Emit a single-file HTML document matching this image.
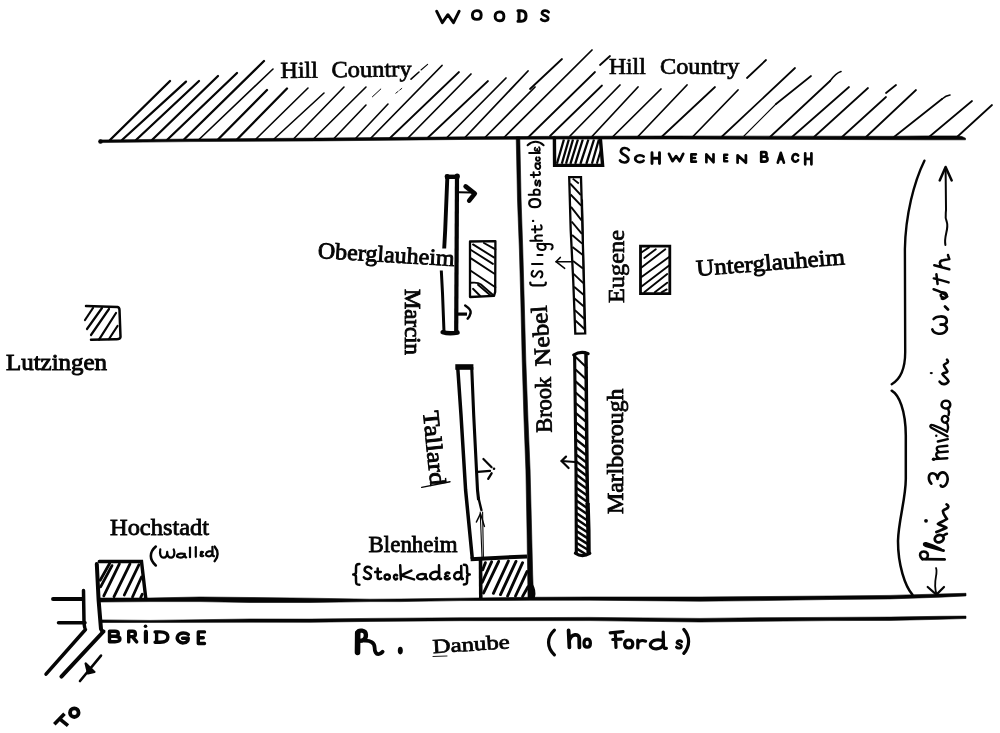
<!DOCTYPE html>
<html><head><meta charset="utf-8"><title>Blenheim</title>
<style>
html,body{margin:0;padding:0;background:#fff;}
body{width:1000px;height:733px;overflow:hidden;font-family:"Liberation Serif",serif;}
svg{display:block;filter:grayscale(1)}
svg path,svg line{fill:none;stroke:#050505;}
svg text{font-family:"Liberation Serif",serif;fill:#050505;}
</style></head><body>
<svg width="1000" height="733" viewBox="0 0 1000 733">
<rect width="1000" height="733" fill="#fff"/>
<line x1="110.0" y1="140.0" x2="170.0" y2="81.0" stroke-width="2.4" stroke-linecap="round" />
<line x1="122.0" y1="140.0" x2="186.0" y2="81.6" stroke-width="2.3" stroke-linecap="round" />
<line x1="136.0" y1="140.0" x2="199.0" y2="81.0" stroke-width="2.3" stroke-linecap="round" />
<line x1="152.0" y1="140.0" x2="218.0" y2="76.0" stroke-width="2.3" stroke-linecap="round" />
<line x1="167.0" y1="140.0" x2="237.0" y2="73.0" stroke-width="2.3" stroke-linecap="round" />
<line x1="184.0" y1="139.5" x2="264.0" y2="61.0" stroke-width="2.3" stroke-linecap="round" />
<line x1="199.0" y1="139.5" x2="273.0" y2="69.0" stroke-width="1.6" stroke-linecap="round" />
<line x1="218.0" y1="139.5" x2="267.0" y2="90.0" stroke-width="2.3" stroke-linecap="round" />
<line x1="237.0" y1="139.5" x2="287.0" y2="88.5" stroke-width="2.3" stroke-linecap="round" />
<line x1="256.0" y1="139.0" x2="308.0" y2="88.0" stroke-width="1.6" stroke-linecap="round" />
<line x1="274.0" y1="139.0" x2="324.0" y2="93.0" stroke-width="1.6" stroke-linecap="round" />
<line x1="294.0" y1="138.5" x2="344.0" y2="87.0" stroke-width="1.6" stroke-linecap="round" />
<line x1="314.0" y1="138.5" x2="366.0" y2="87.0" stroke-width="1.6" stroke-linecap="round" />
<line x1="334.0" y1="138.5" x2="366.0" y2="105.0" stroke-width="1.6" stroke-linecap="round" />
<line x1="356.0" y1="138.0" x2="388.0" y2="104.0" stroke-width="1.6" stroke-linecap="round" />
<line x1="371.0" y1="138.0" x2="442.0" y2="65.5" stroke-width="1.75" stroke-linecap="round" />
<line x1="390.0" y1="138.0" x2="459.0" y2="72.0" stroke-width="1.75" stroke-linecap="round" />
<line x1="408.0" y1="138.0" x2="471.0" y2="74.0" stroke-width="1.75" stroke-linecap="round" />
<line x1="428.0" y1="137.5" x2="488.0" y2="81.0" stroke-width="1.75" stroke-linecap="round" />
<line x1="447.0" y1="137.5" x2="506.0" y2="78.0" stroke-width="1.75" stroke-linecap="round" />
<line x1="465.0" y1="137.5" x2="528.0" y2="71.0" stroke-width="1.75" stroke-linecap="round" />
<line x1="485.0" y1="137.5" x2="535.0" y2="87.0" stroke-width="1.75" stroke-linecap="round" />
<line x1="504.0" y1="137.5" x2="592.0" y2="50.0" stroke-width="1.75" stroke-linecap="round" />
<line x1="528.0" y1="137.5" x2="595.0" y2="72.0" stroke-width="1.75" stroke-linecap="round" />
<line x1="550.0" y1="136.0" x2="602.0" y2="85.5" stroke-width="1.75" stroke-linecap="round" />
<line x1="570.0" y1="136.0" x2="620.0" y2="85.0" stroke-width="1.75" stroke-linecap="round" />
<line x1="592.0" y1="136.5" x2="638.0" y2="87.0" stroke-width="1.75" stroke-linecap="round" />
<line x1="613.0" y1="136.5" x2="661.0" y2="89.0" stroke-width="1.75" stroke-linecap="round" />
<line x1="638.0" y1="136.5" x2="687.0" y2="85.0" stroke-width="1.75" stroke-linecap="round" />
<line x1="662.0" y1="136.5" x2="715.0" y2="87.0" stroke-width="1.75" stroke-linecap="round" />
<line x1="693.0" y1="136.5" x2="738.0" y2="90.0" stroke-width="1.75" stroke-linecap="round" />
<line x1="722.0" y1="136.5" x2="795.0" y2="68.0" stroke-width="1.75" stroke-linecap="round" />
<line x1="770.0" y1="137.0" x2="830.0" y2="81.0" stroke-width="1.75" stroke-linecap="round" />
<line x1="792.0" y1="137.0" x2="849.0" y2="87.0" stroke-width="1.75" stroke-linecap="round" />
<line x1="814.0" y1="137.0" x2="868.0" y2="88.0" stroke-width="1.75" stroke-linecap="round" />
<line x1="842.0" y1="137.0" x2="886.0" y2="97.0" stroke-width="1.75" stroke-linecap="round" />
<line x1="866.0" y1="137.0" x2="916.0" y2="90.0" stroke-width="1.75" stroke-linecap="round" />
<line x1="894.0" y1="137.0" x2="942.0" y2="99.0" stroke-width="1.75" stroke-linecap="round" />
<line x1="929.0" y1="137.0" x2="972.0" y2="101.0" stroke-width="1.75" stroke-linecap="round" />
<line x1="957.0" y1="137.0" x2="992.0" y2="105.0" stroke-width="1.75" stroke-linecap="round" />
<line x1="530.0" y1="89.0" x2="562.0" y2="59.0" stroke-width="1.8" stroke-linecap="round" />
<line x1="600.0" y1="65.0" x2="610.0" y2="56.0" stroke-width="1.8" stroke-linecap="round" />
<line x1="886.0" y1="93.0" x2="896.0" y2="85.0" stroke-width="1.8" stroke-linecap="round" />
<path d="M830,81 Q836,73 841,71.5" stroke-width="1.6" stroke-linecap="round" stroke-linejoin="round" />
<path d="M942,99 Q946,95.5 950,95" stroke-width="1.6" stroke-linecap="round" stroke-linejoin="round" />
<line x1="372.4" y1="96.8" x2="380.8" y2="89.0" stroke-width="1.0" stroke-linecap="round" />
<line x1="395.8" y1="93.2" x2="401.8" y2="88.4" stroke-width="0.9" stroke-linecap="round" stroke-dasharray="3 2"/>
<line x1="411.0" y1="79.2" x2="419.0" y2="72.0" stroke-width="1.6" stroke-linecap="round" />
<line x1="421.0" y1="70.0" x2="427.6" y2="64.4" stroke-width="1.1" stroke-linecap="round" />
<line x1="747.0" y1="78.0" x2="766.0" y2="60.0" stroke-width="1.8" stroke-linecap="round" />
<line x1="744.0" y1="136.0" x2="776.0" y2="104.0" stroke-width="1.1" stroke-linecap="round" />
<line x1="776.0" y1="104.0" x2="811.0" y2="76.0" stroke-width="1.7" stroke-linecap="round" />
<path d="M99.5,140.0 L190.0,139.0 L320.0,138.1 L470.0,136.8 L560.0,136.3 L670.0,136.0 L890.0,136.3 L925.0,135.9 L958.0,135.9 L962.0,136.6 L965.5,138.2 L965.5,139.8 L962.0,139.8 L958.0,139.8 L925.0,139.8 L890.0,139.7 L670.0,139.0 L560.0,139.1 L470.0,139.4 L320.0,140.9 L190.0,141.6 L99.5,142.6 Z" style="fill:#050505;stroke:#050505" stroke-width="0.6" stroke-linejoin="round"/>
<circle cx="100.5" cy="141.5" r="2.3" fill="#050505"/>
<path d="M516.2,137.0 L517.5,200.0 L519.4,250.0 L520.8,300.0 L522.2,360.0 L524.0,420.0 L525.9,470.0 L527.0,530.0 L527.7,575.0 L528.0,598.0 L533.6,598.0 L532.7,575.0 L531.6,530.0 L530.1,470.0 L528.0,420.0 L525.8,360.0 L524.2,300.0 L522.8,250.0 L521.1,200.0 L519.8,137.0 Z" style="fill:#050505;stroke:#050505" stroke-width="0.6" stroke-linejoin="round"/>
<path d="M531.5,585 Q535,590 533.5,597" stroke-width="3" stroke-linecap="round" stroke-linejoin="round" />
<path d="M99.0,598.0 L150.0,598.0 L200.0,597.0 L250.0,597.5 L310.0,598.2 L370.0,599.2 L400.0,599.0 L460.0,598.2 L530.0,597.3 L590.0,597.0 L700.0,597.0 L760.0,596.6 L830.0,596.0 L890.0,595.4 L940.0,594.0 L966.0,593.3 L966.0,595.9 L940.0,597.2 L890.0,598.9 L830.0,599.5 L760.0,600.6 L700.0,601.2 L590.0,600.2 L530.0,600.3 L460.0,600.6 L400.0,601.6 L370.0,601.6 L310.0,602.5 L250.0,602.5 L200.0,601.6 L150.0,601.6 L99.0,602.0 Z" style="fill:#050505;stroke:#050505" stroke-width="0.6" stroke-linejoin="round"/>
<path d="M101.0,619.9 L150.0,620.4 L250.0,619.0 L310.0,619.1 L370.0,618.4 L460.0,617.8 L590.0,617.4 L700.0,618.4 L760.0,617.7 L830.0,617.4 L890.0,617.1 L940.0,616.3 L966.0,616.1 L966.0,618.5 L940.0,619.3 L890.0,620.4 L830.0,620.6 L760.0,621.3 L700.0,622.0 L590.0,620.6 L460.0,620.7 L370.0,621.4 L310.0,622.3 L250.0,622.2 L150.0,622.4 L101.0,622.5 Z" style="fill:#050505;stroke:#050505" stroke-width="0.6" stroke-linejoin="round"/>
<line x1="53.0" y1="599.0" x2="83.0" y2="599.0" stroke-width="3.9" stroke-linecap="round" />
<line x1="58.5" y1="622.8" x2="85.0" y2="622.8" stroke-width="3.5" stroke-linecap="round" />
<path d="M83.5,590.5 L84,622 Q84.5,629 85.5,629.5 L46,674.2" stroke-width="3.5" stroke-linecap="round" stroke-linejoin="round" />
<path d="M96.8,564 L98.6,600 L101,629 Q101.5,631 103.5,631.5 L61.4,676.6" stroke-width="4.0" stroke-linecap="round" stroke-linejoin="round" />
<line x1="101.0" y1="655.6" x2="80.0" y2="681.0" stroke-width="2.6" stroke-linecap="round" />
<path d="M85.6,663.4 L88,673.4 L94.5,672 Z" stroke-width="2.2" stroke-linecap="round" stroke-linejoin="round" style="fill:#050505"/>
<path d="M554.4,138.0 L554.6,165.2 L602.6,165.4 L600.4,139.0" stroke-width="3.4" stroke-linecap="round" stroke-linejoin="miter" />
<line x1="556.9" y1="163.8" x2="563.9" y2="139.5" stroke-width="2.3" stroke-linecap="butt" />
<line x1="561.8" y1="163.8" x2="568.8" y2="139.5" stroke-width="2.3" stroke-linecap="butt" />
<line x1="566.0" y1="163.8" x2="573.0" y2="139.5" stroke-width="2.3" stroke-linecap="butt" />
<line x1="570.4" y1="163.8" x2="577.9" y2="139.5" stroke-width="2.3" stroke-linecap="butt" />
<line x1="575.2" y1="163.8" x2="582.8" y2="139.5" stroke-width="2.3" stroke-linecap="butt" />
<line x1="580.4" y1="163.8" x2="588.4" y2="139.5" stroke-width="2.3" stroke-linecap="butt" />
<line x1="586.3" y1="163.8" x2="594.0" y2="139.5" stroke-width="2.3" stroke-linecap="butt" />
<line x1="591.9" y1="163.8" x2="598.9" y2="139.5" stroke-width="2.3" stroke-linecap="butt" />
<line x1="596.8" y1="163.8" x2="600.9" y2="150.0" stroke-width="2.1" stroke-linecap="butt" />
<path d="M470.0,241.5 L495.4,241.2 L495.2,291.8 L494.0,295.8 L470.0,297.0 Z" stroke-width="2.3" stroke-linecap="round" stroke-linejoin="round" />
<line x1="483.9" y1="243.0" x2="495.4" y2="249.4" stroke-width="1.9" stroke-linecap="round" />
<line x1="473.0" y1="244.4" x2="493.9" y2="257.4" stroke-width="1.9" stroke-linecap="round" />
<line x1="471.0" y1="250.0" x2="492.9" y2="263.9" stroke-width="1.9" stroke-linecap="round" />
<line x1="471.0" y1="258.4" x2="494.4" y2="273.8" stroke-width="1.9" stroke-linecap="round" />
<line x1="470.0" y1="270.3" x2="495.4" y2="287.3" stroke-width="1.9" stroke-linecap="round" />
<line x1="478.0" y1="284.8" x2="490.9" y2="295.7" stroke-width="1.9" stroke-linecap="round" />
<line x1="473.0" y1="288.8" x2="480.0" y2="295.7" stroke-width="1.9" stroke-linecap="round" />
<path d="M471,282.8 Q478,282 481,284.5 L493.9,295.7" stroke-width="1.9" stroke-linecap="round" stroke-linejoin="round" />
<path d="M640.5,246.2 L669.8,246.2 L669.8,293.7 L640.5,293.7 Z" stroke-width="2.8" stroke-linecap="round" stroke-linejoin="miter" />
<line x1="641.0" y1="252.7" x2="649.0" y2="247.4" stroke-width="1.9" stroke-linecap="round" />
<line x1="644.3" y1="257.9" x2="655.8" y2="249.3" stroke-width="1.9" stroke-linecap="round" />
<line x1="641.5" y1="267.4" x2="665.3" y2="249.3" stroke-width="1.9" stroke-linecap="round" />
<line x1="641.5" y1="277.0" x2="669.1" y2="257.0" stroke-width="1.9" stroke-linecap="round" />
<line x1="641.5" y1="286.5" x2="669.1" y2="265.5" stroke-width="1.9" stroke-linecap="round" />
<line x1="644.3" y1="292.3" x2="667.2" y2="274.1" stroke-width="1.9" stroke-linecap="round" />
<line x1="654.8" y1="292.3" x2="667.2" y2="282.7" stroke-width="1.9" stroke-linecap="round" />
<line x1="661.5" y1="292.3" x2="666.7" y2="289.4" stroke-width="1.9" stroke-linecap="round" />
<path d="M86,306 L117.5,307 Q119.5,307.5 119.5,310 L120.5,337 Q120,339.5 116,339.3 L91,339.8" stroke-width="2.5" stroke-linecap="round" stroke-linejoin="round" />
<line x1="85.0" y1="320.0" x2="93.0" y2="308.0" stroke-width="2.2" stroke-linecap="round" />
<line x1="87.0" y1="329.0" x2="102.0" y2="308.0" stroke-width="2.2" stroke-linecap="round" />
<line x1="91.0" y1="335.0" x2="109.0" y2="309.0" stroke-width="2.2" stroke-linecap="round" />
<line x1="99.0" y1="339.6" x2="116.0" y2="313.0" stroke-width="2.2" stroke-linecap="round" />
<line x1="109.0" y1="339.0" x2="117.5" y2="326.0" stroke-width="2.2" stroke-linecap="round" />
<path d="M99.3,561.5 L141.5,561.5 L145.8,598.5" stroke-width="3.4" stroke-linecap="round" stroke-linejoin="miter" />
<line x1="100.2" y1="580.3" x2="109.6" y2="563.5" stroke-width="2.8" stroke-linecap="round" />
<line x1="100.6" y1="586.9" x2="112.0" y2="565.6" stroke-width="2.8" stroke-linecap="round" />
<line x1="103.8" y1="595.9" x2="119.4" y2="563.9" stroke-width="2.8" stroke-linecap="round" />
<line x1="114.0" y1="596.7" x2="130.0" y2="563.9" stroke-width="2.8" stroke-linecap="round" />
<line x1="124.3" y1="595.0" x2="139.0" y2="564.7" stroke-width="2.8" stroke-linecap="round" />
<line x1="132.5" y1="597.0" x2="141.5" y2="577.0" stroke-width="2.8" stroke-linecap="round" />
<line x1="140.7" y1="597.5" x2="142.3" y2="594.2" stroke-width="2.8" stroke-linecap="round" />
<path d="M480.5,559.0 L480.8,598.0" stroke-width="3.6" stroke-linecap="butt" stroke-linejoin="round" />
<line x1="482.7" y1="569.8" x2="485.4" y2="562.7" stroke-width="2.9" stroke-linecap="round" />
<line x1="482.3" y1="582.2" x2="491.6" y2="561.8" stroke-width="2.9" stroke-linecap="round" />
<line x1="483.6" y1="592.9" x2="498.7" y2="561.4" stroke-width="2.9" stroke-linecap="round" />
<line x1="493.4" y1="593.3" x2="508.4" y2="561.0" stroke-width="2.9" stroke-linecap="round" />
<line x1="500.5" y1="594.6" x2="516.0" y2="561.4" stroke-width="2.9" stroke-linecap="round" />
<line x1="507.6" y1="596.0" x2="522.6" y2="562.7" stroke-width="2.9" stroke-linecap="round" />
<line x1="515.5" y1="596.0" x2="527.0" y2="571.6" stroke-width="2.9" stroke-linecap="round" />
<line x1="522.6" y1="596.4" x2="528.0" y2="586.7" stroke-width="2.9" stroke-linecap="round" />
<path d="M444.2,248.5 L445.2,230.0 L447.3,178.0" stroke-width="3.9" stroke-linecap="butt" stroke-linejoin="round" />
<path d="M445.3,176.8 L459.2,176.8" stroke-width="4.4" stroke-linecap="butt" stroke-linejoin="round" />
<path d="M457.0,176.0 L456.2,333.0" stroke-width="4.2" stroke-linecap="butt" stroke-linejoin="round" />
<path d="M441.3,270.5 L442.5,293.0 L444.0,332.0" stroke-width="3.0" stroke-linecap="butt" stroke-linejoin="round" />
<path d="M442.6,332.2 Q449,334.2 457.6,332.6" stroke-width="4.4" stroke-linecap="round" stroke-linejoin="round" />
<circle cx="447.2" cy="176.4" r="2.5" fill="#050505"/><circle cx="457.2" cy="176.2" r="2.6" fill="#050505"/>
<line x1="458.8" y1="192.2" x2="471.0" y2="192.4" stroke-width="2.0" stroke-linecap="round" />
<path d="M465.6,186.4 L474.8,193.6 L469.2,200.6" stroke-width="4.6" stroke-linecap="round" stroke-linejoin="round" />
<line x1="458.0" y1="314.1" x2="467.0" y2="314.1" stroke-width="3.2" stroke-linecap="butt" />
<path d="M465.2,305.5 Q471.4,309.6 470.6,313 Q469.8,316.4 467.7,318.6" stroke-width="2.5" stroke-linecap="round" stroke-linejoin="round" />
<path d="M457.7,367.0 L461.0,415.0 L465.6,490.0 L472.3,558.6" stroke-width="3.5" stroke-linecap="butt" stroke-linejoin="round" />
<path d="M455.3,367.0 L473.4,367.0" stroke-width="5.6" stroke-linecap="butt" stroke-linejoin="round" />
<path d="M471.7,367.0 L473.7,415.0 L477.5,490.0 L478.6,500.0" stroke-width="3.1" stroke-linecap="butt" stroke-linejoin="round" />
<path d="M478.5,498.0 L481.4,510.0" stroke-width="2.4" stroke-linecap="round" stroke-linejoin="round" />
<path d="M480.2,512 L482.0,557" stroke-width="1.1" stroke-linecap="round" stroke-linejoin="round" />
<path d="M482.6,512 L483.4,557" stroke-width="1.1" stroke-linecap="round" stroke-linejoin="round" />
<path d="M476.4,522 L480.5,513.6 L484.4,526.4" stroke-width="1.5" stroke-linecap="round" stroke-linejoin="round" />
<path d="M470.6,559.2 L527,556.4" stroke-width="4.0" stroke-linecap="butt" stroke-linejoin="round" />
<line x1="477.8" y1="471.8" x2="490.0" y2="470.8" stroke-width="2.3" stroke-linecap="round" />
<line x1="483.4" y1="459.0" x2="491.6" y2="467.2" stroke-width="2.2" stroke-linecap="round" />
<line x1="488.2" y1="478.8" x2="491.6" y2="473.3" stroke-width="2.3" stroke-linecap="round" />
<circle cx="494" cy="468.8" r="1.3" fill="#050505"/>
<path d="M569.2,177.2 L581.0,177.2 L583.9,280.0 L585.2,333.4 L575.3,333.6 L573.2,280.0 L570.7,230.0 Z" stroke-width="2.3" stroke-linecap="round" stroke-linejoin="miter" />
<line x1="582.2" y1="200.0" x2="584.6" y2="330.0" stroke-width="1.7" stroke-linecap="round" />
<line x1="572.7" y1="178.6" x2="578.8" y2="183.5" stroke-width="1.8" stroke-linecap="butt" />
<line x1="570.1" y1="183.5" x2="580.9" y2="195.2" stroke-width="1.9" stroke-linecap="butt" />
<line x1="570.6" y1="194.5" x2="581.2" y2="205.6" stroke-width="1.9" stroke-linecap="butt" />
<line x1="571.0" y1="206.8" x2="581.6" y2="220.3" stroke-width="1.9" stroke-linecap="butt" />
<line x1="571.6" y1="221.5" x2="581.9" y2="233.8" stroke-width="1.9" stroke-linecap="butt" />
<line x1="572.1" y1="235.0" x2="582.2" y2="243.6" stroke-width="1.9" stroke-linecap="butt" />
<line x1="572.5" y1="247.0" x2="582.5" y2="254.7" stroke-width="1.9" stroke-linecap="butt" />
<line x1="573.1" y1="261.0" x2="582.9" y2="268.4" stroke-width="1.9" stroke-linecap="butt" />
<line x1="573.6" y1="273.9" x2="583.3" y2="283.1" stroke-width="1.9" stroke-linecap="butt" />
<line x1="574.1" y1="286.8" x2="583.6" y2="294.8" stroke-width="1.9" stroke-linecap="butt" />
<line x1="574.5" y1="298.5" x2="583.9" y2="306.4" stroke-width="1.9" stroke-linecap="butt" />
<line x1="574.9" y1="310.1" x2="584.2" y2="318.7" stroke-width="1.9" stroke-linecap="butt" />
<line x1="575.3" y1="320.5" x2="584.5" y2="329.0" stroke-width="1.9" stroke-linecap="butt" />
<line x1="571.5" y1="261.7" x2="556.0" y2="261.7" stroke-width="1.5" stroke-linecap="round" />
<path d="M560.4,257.4 L556.0,261.7 L564.7,268.4" stroke-width="1.5" stroke-linecap="round" stroke-linejoin="round" />
<path d="M574.6,354.0 L576.0,470.0 L576.3,553.0" stroke-width="3.1" stroke-linecap="butt" stroke-linejoin="round" />
<path d="M586.0,354.0 L587.0,470.0 L587.6,505.0" stroke-width="3.5" stroke-linecap="butt" stroke-linejoin="round" />
<path d="M587.6,503.0 L588.4,530.0 L588.6,553.0" stroke-width="4.3" stroke-linecap="butt" stroke-linejoin="round" />
<path d="M573.6,355 Q580.5,350.6 588.2,353.6" stroke-width="3.0" stroke-linecap="round" stroke-linejoin="round" />
<path d="M575.4,553.2 Q582,557.8 589.8,553.4" stroke-width="3.2" stroke-linecap="round" stroke-linejoin="round" />
<line x1="575.6" y1="357.0" x2="587.4" y2="368.2" stroke-width="2.0198" stroke-linecap="butt" />
<line x1="575.6" y1="369.6" x2="587.4" y2="380.5" stroke-width="2.08199378" stroke-linecap="butt" />
<line x1="575.6" y1="381.4" x2="587.4" y2="392.1" stroke-width="2.140524346358" stroke-linecap="butt" />
<line x1="575.6" y1="392.5" x2="587.4" y2="403.0" stroke-width="2.195607462357514" stroke-linecap="butt" />
<line x1="575.6" y1="403.0" x2="587.4" y2="413.2" stroke-width="2.2474461828246564" stroke-linecap="butt" />
<line x1="575.6" y1="412.8" x2="587.4" y2="422.9" stroke-width="2.296231602656284" stroke-linecap="butt" />
<line x1="575.6" y1="422.1" x2="587.4" y2="431.9" stroke-width="2.342143561259829" stroke-linecap="butt" />
<line x1="575.6" y1="430.8" x2="587.4" y2="440.5" stroke-width="2.385351305501625" stroke-linecap="butt" />
<line x1="575.6" y1="439.1" x2="587.4" y2="448.5" stroke-width="2.4260141136075792" stroke-linecap="butt" />
<line x1="575.6" y1="446.8" x2="587.4" y2="456.1" stroke-width="2.45" stroke-linecap="butt" />
<line x1="575.6" y1="454.1" x2="587.4" y2="463.2" stroke-width="2.45" stroke-linecap="butt" />
<line x1="575.6" y1="460.9" x2="587.4" y2="469.9" stroke-width="2.45" stroke-linecap="butt" />
<line x1="575.6" y1="467.5" x2="587.4" y2="476.4" stroke-width="2.45" stroke-linecap="butt" />
<line x1="575.6" y1="474.1" x2="587.4" y2="482.9" stroke-width="2.45" stroke-linecap="butt" />
<line x1="575.6" y1="480.7" x2="587.4" y2="489.3" stroke-width="2.45" stroke-linecap="butt" />
<line x1="575.6" y1="487.2" x2="587.4" y2="495.7" stroke-width="2.45" stroke-linecap="butt" />
<line x1="575.6" y1="493.6" x2="587.4" y2="502.0" stroke-width="2.45" stroke-linecap="butt" />
<line x1="575.6" y1="500.0" x2="587.4" y2="508.2" stroke-width="2.45" stroke-linecap="butt" />
<line x1="575.6" y1="506.2" x2="587.4" y2="514.3" stroke-width="2.45" stroke-linecap="butt" />
<line x1="575.6" y1="512.4" x2="587.4" y2="520.4" stroke-width="2.45" stroke-linecap="butt" />
<line x1="575.6" y1="518.5" x2="587.4" y2="526.4" stroke-width="2.45" stroke-linecap="butt" />
<line x1="575.6" y1="524.6" x2="587.4" y2="532.3" stroke-width="2.45" stroke-linecap="butt" />
<line x1="575.6" y1="530.5" x2="587.4" y2="538.1" stroke-width="2.45" stroke-linecap="butt" />
<line x1="575.6" y1="536.4" x2="587.4" y2="543.9" stroke-width="2.45" stroke-linecap="butt" />
<line x1="575.6" y1="542.2" x2="587.4" y2="549.5" stroke-width="2.45" stroke-linecap="butt" />
<line x1="575.6" y1="547.9" x2="587.4" y2="555.2" stroke-width="2.45" stroke-linecap="butt" />
<line x1="574.8" y1="462.0" x2="561.5" y2="461.0" stroke-width="2.0" stroke-linecap="round" />
<path d="M566.0,456.6 L561.5,461.0 L568.6,468.0" stroke-width="2.2" stroke-linecap="round" stroke-linejoin="round" />
<text x="280.5" y="78.0" font-size="23" font-weight="normal" textLength="37.5" lengthAdjust="spacingAndGlyphs" stroke="#050505" stroke-width="0.7" transform="rotate(-0.6 280.5 78.0)">Hill</text>
<text x="331.5" y="77.2" font-size="23" font-weight="normal" textLength="80.2" lengthAdjust="spacingAndGlyphs" stroke="#050505" stroke-width="0.7" transform="rotate(-0.6 331.5 77.2)">Country</text>
<text x="609.0" y="74.0" font-size="23" font-weight="normal" textLength="36.7" lengthAdjust="spacingAndGlyphs" stroke="#050505" stroke-width="0.7">Hill</text>
<text x="660.0" y="73.6" font-size="23" font-weight="normal" textLength="79.5" lengthAdjust="spacingAndGlyphs" stroke="#050505" stroke-width="0.7">Country</text>
<text x="6.0" y="370.0" font-size="23" font-weight="normal" textLength="101.0" lengthAdjust="spacingAndGlyphs" stroke="#050505" stroke-width="0.9">Lutzingen</text>
<text x="317.5" y="258.0" font-size="23" font-weight="normal" textLength="137.0" lengthAdjust="spacingAndGlyphs" stroke="#050505" stroke-width="0.85" transform="rotate(3.4 317.5 258.0)">Oberglauheim</text>
<text x="405.0" y="289.0" font-size="23" font-weight="normal" textLength="66.0" lengthAdjust="spacingAndGlyphs" stroke="#050505" stroke-width="0.9" transform="rotate(90 405.0 289.0)">Marcin</text>
<text x="423.0" y="411.5" font-size="23" font-weight="normal" textLength="75.0" lengthAdjust="spacingAndGlyphs" stroke="#050505" stroke-width="0.85" transform="rotate(84.3 423.0 411.5)">Tallard</text>
<text x="368.6" y="552.0" font-size="23" font-weight="normal" textLength="89.0" lengthAdjust="spacingAndGlyphs" stroke="#050505" stroke-width="0.8">Blenheim</text>
<text x="110.0" y="535.0" font-size="23" font-weight="normal" textLength="99.0" lengthAdjust="spacingAndGlyphs" stroke="#050505" stroke-width="0.8">Hochstadt</text>
<text x="433.0" y="653.3" font-size="20" font-weight="normal" textLength="77.3" lengthAdjust="spacingAndGlyphs" stroke="#050505" stroke-width="0.7" transform="rotate(-3.8 433.0 653.3)">Danube</text>
<text x="623.6" y="303.0" font-size="23" font-weight="normal" textLength="73.0" lengthAdjust="spacingAndGlyphs" stroke="#050505" stroke-width="0.7" transform="rotate(-90 623.6 303.0)">Eugene</text>
<text x="696.8" y="276.0" font-size="23" font-weight="normal" textLength="149.0" lengthAdjust="spacingAndGlyphs" stroke="#050505" stroke-width="0.85" transform="rotate(-4.5 696.8 276.0)">Unterglauheim</text>
<text x="623.0" y="514.0" font-size="23" font-weight="normal" textLength="125.4" lengthAdjust="spacingAndGlyphs" stroke="#050505" stroke-width="0.85" transform="rotate(-90 623.0 514.0)">Marlborough</text>
<text x="551.7" y="432.4" font-size="23" font-weight="normal" textLength="55.6" lengthAdjust="spacingAndGlyphs" stroke="#050505" stroke-width="0.8" transform="rotate(-91 551.7 432.4)">Brook</text>
<text x="550.7" y="365.6" font-size="23" font-weight="normal" textLength="60.6" lengthAdjust="spacingAndGlyphs" stroke="#050505" stroke-width="0.8" transform="rotate(-94 550.7 365.6)">Nebel</text>
<line x1="421.7" y1="487.4" x2="450.0" y2="481.7" stroke-width="1.4" stroke-linecap="round" />
<line x1="433.0" y1="656.5" x2="447.0" y2="656.0" stroke-width="0.9" stroke-linecap="round" />
<path d="M 436.6,11.2 L 442.3,22.7 L 447.9,14.7 L 453.5,22.7 L 459.2,11.2" stroke-width="2.9" stroke-linecap="round" stroke-linejoin="round" />
<path d="M 476.9,10.6 C 473.8,10.6 472.4,12.8 472.4,15.0 C 472.4,17.7 474.2,19.4 476.9,19.4 C 479.5,19.4 481.2,17.7 481.2,15.0 C 481.2,12.4 479.9,10.6 476.9,10.6 Z" stroke-width="2.9" stroke-linecap="round" stroke-linejoin="round" />
<path d="M 499.5,11.9 C 496.5,11.9 495.1,14.1 495.1,16.4 C 495.1,19.0 496.9,20.8 499.5,20.8 C 502.2,20.8 503.9,19.0 503.9,16.4 C 503.9,13.7 502.6,11.9 499.5,11.9 Z" stroke-width="2.9" stroke-linecap="round" stroke-linejoin="round" />
<path d="M 519.0,10.8 L 519.0,21.2 M 518.0,10.8 L 521.2,10.8 C 524.4,10.8 526.0,12.8 526.0,16.0 C 526.0,19.1 524.4,21.2 521.2,21.2 L 518.0,21.2" stroke-width="3.1" stroke-linecap="round" stroke-linejoin="round" />
<path d="M 548.6,12.1 C 547.0,10.2 542.8,10.0 542.0,12.8 C 541.4,15.7 548.3,15.2 548.2,18.6 C 547.8,21.5 542.8,21.3 541.2,19.3" stroke-width="2.6999999999999997" stroke-linecap="round" stroke-linejoin="round" />
<path d="M 628.9,150.0 C 627.0,147.3 621.8,147.0 620.9,151.0 C 620.1,155.2 628.6,154.5 628.4,159.4 C 627.9,163.5 621.8,163.2 620.0,160.4" stroke-width="2.7" stroke-linecap="round" stroke-linejoin="round" />
<path d="M 643.6,156.5 C 641.9,154.9 637.5,154.6 635.7,157.1 C 634.0,160.0 637.5,162.5 640.1,162.2 C 641.9,162.0 643.2,161.4 643.6,160.7" stroke-width="2.7" stroke-linecap="round" stroke-linejoin="round" />
<path d="M 652.0,152.8 L 652.0,163.6 M 659.5,152.8 L 659.5,163.6 M 652.0,158.2 L 659.5,158.2" stroke-width="2.9000000000000004" stroke-linecap="round" stroke-linejoin="round" />
<path d="M 669.0,153.8 L 672.5,161.2 L 676.1,156.1 L 679.7,161.2 L 683.2,153.8" stroke-width="2.7" stroke-linecap="round" stroke-linejoin="round" />
<path d="M 695.9,154.3 L 691.4,154.3 L 691.4,161.7 L 695.9,161.7 M 691.4,158.0 L 695.0,158.0" stroke-width="2.7" stroke-linecap="round" stroke-linejoin="round" />
<path d="M 706.4,162.2 L 706.4,154.3 L 713.5,162.2 L 713.5,154.3" stroke-width="2.7" stroke-linecap="round" stroke-linejoin="round" />
<path d="M 727.3,154.7 L 724.2,154.7 L 724.2,161.2 L 727.3,161.2 M 724.2,157.9 L 726.7,157.9" stroke-width="2.4000000000000004" stroke-linecap="round" stroke-linejoin="round" />
<path d="M 737.6,162.7 L 737.6,155.3 L 745.9,162.7 L 745.9,155.3" stroke-width="2.7" stroke-linecap="round" stroke-linejoin="round" />
<path d="M 761.2,152.2 L 761.2,161.7 M 761.2,152.2 L 764.5,152.2 C 767.2,152.2 767.2,156.4 764.5,156.7 L 761.2,156.7 M 764.5,156.7 C 768.5,156.9 768.5,161.7 764.5,161.7 L 761.2,161.7" stroke-width="2.7" stroke-linecap="round" stroke-linejoin="round" />
<path d="M 777.8,162.7 L 780.8,152.8 L 783.9,162.7 M 779.0,159.2 L 782.6,159.2" stroke-width="2.7" stroke-linecap="round" stroke-linejoin="round" />
<path d="M 798.1,155.6 C 796.9,153.8 793.9,153.5 792.7,156.2 C 791.4,159.3 793.9,162.0 795.7,161.7 C 796.9,161.5 797.8,160.9 798.1,160.1" stroke-width="2.7" stroke-linecap="round" stroke-linejoin="round" />
<path d="M 805.2,153.3 L 805.2,164.3 M 811.4,153.3 L 811.4,164.3 M 805.2,158.8 L 811.4,158.8" stroke-width="2.7" stroke-linecap="round" stroke-linejoin="round" />
<path d="M 109.5,631.3 L 109.5,641.7 M 109.5,631.3 L 115.0,631.3 C 119.4,631.3 119.4,636.0 115.0,636.3 L 109.5,636.3 M 115.0,636.3 C 121.6,636.5 121.6,641.7 115.0,641.7 L 109.5,641.7" stroke-width="3.4" stroke-linecap="round" stroke-linejoin="round" />
<path d="M 128.7,631.3 L 128.7,641.9 M 128.7,631.3 L 132.7,631.3 C 136.3,631.3 136.3,636.6 132.7,636.6 L 128.7,636.6 M 132.3,636.6 L 136.7,641.9" stroke-width="3.4" stroke-linecap="round" stroke-linejoin="round" />
<path d="M 145.9,631.9 L 145.9,641.9" stroke-width="4.2" stroke-linecap="round" stroke-linejoin="round" />
<circle cx="145.5" cy="626.2" r="1.8" fill="#050505"/>
<path d="M 156.6,631.9 L 156.6,642.3 M 155.1,631.9 L 160.2,631.9 C 165.3,631.9 167.9,634.0 167.9,637.1 C 167.9,640.2 165.3,642.3 160.2,642.3 L 155.1,642.3" stroke-width="3.4" stroke-linecap="round" stroke-linejoin="round" />
<path d="M 188.3,634.6 C 186.0,632.5 180.2,632.0 177.9,635.6 C 175.5,639.8 180.2,643.4 183.7,642.9 C 187.1,642.4 188.3,640.8 188.3,638.2 L 182.5,638.2" stroke-width="3.4" stroke-linecap="round" stroke-linejoin="round" />
<path d="M 204.5,631.9 L 198.3,631.9 L 198.3,643.5 L 204.5,643.5 M 198.3,637.7 L 203.3,637.7" stroke-width="3.4" stroke-linecap="round" stroke-linejoin="round" />
<path d="M 155.8,546.6 C 149.2,552.2 149.2,559.8 155.8,565.4" stroke-width="2.6" stroke-linecap="round" stroke-linejoin="round" />
<path d="M 160.3,549.4 C 159.3,554.3 160.7,557.6 163.6,557.6 C 166.5,557.6 167.2,554.3 167.2,551.9 C 167.2,555.1 168.6,557.6 171.2,557.6 C 174.4,557.6 175.1,552.7 173.7,549.4" stroke-width="2.2" stroke-linecap="round" stroke-linejoin="round" />
<path d="M 184.8,554.0 C 182.5,553.2 177.9,553.4 177.0,555.5 C 176.5,557.2 179.8,557.8 182.1,557.4 C 183.9,557.0 184.8,555.9 184.8,553.8 M 184.8,554.7 C 184.8,556.8 185.3,557.6 186.2,557.4" stroke-width="2.2" stroke-linecap="round" stroke-linejoin="round" />
<path d="M 190.0,547.6 L 190.0,557.2" stroke-width="2.2" stroke-linecap="round" stroke-linejoin="round" />
<path d="M 195.8,547.2 L 195.8,556.8" stroke-width="2.2" stroke-linecap="round" stroke-linejoin="round" />
<path d="M 203.1,552.1 C 202.1,551.4 200.5,551.6 200.7,553.0 C 200.8,553.8 201.5,554.0 202.1,554.0 C 201.2,554.0 200.2,554.5 200.4,555.4 C 200.5,556.6 202.4,556.6 203.4,555.7" stroke-width="2.0" stroke-linecap="round" stroke-linejoin="round" />
<path d="M 212.4,552.1 C 210.8,550.8 206.8,550.8 206.0,553.7 C 205.6,555.9 208.4,556.9 210.4,556.1 C 212.0,555.4 212.6,554.5 212.6,551.6 M 212.4,546.8 L 212.6,555.0 C 212.7,555.9 213.2,556.4 214.0,556.1" stroke-width="2.2" stroke-linecap="round" stroke-linejoin="round" />
<path d="M 214.6,546.6 C 218.6,551.0 218.6,556.8 214.6,561.2" stroke-width="2.4000000000000004" stroke-linecap="round" stroke-linejoin="round" />
<path d="M 359.4,564.0 C 356.3,564.0 356.0,565.1 356.0,568.2 L 356.0,571.9 C 356.0,573.8 355.1,574.4 353.2,574.4 C 355.1,574.4 356.0,575.0 356.0,576.9 L 356.0,580.6 C 356.0,583.7 356.3,584.8 359.4,584.8" stroke-width="2.5" stroke-linecap="round" stroke-linejoin="round" />
<path d="M 371.4,568.5 C 369.8,566.3 365.4,566.0 364.6,569.4 C 363.9,572.9 371.1,572.3 370.9,576.4 C 370.6,579.9 365.4,579.6 363.8,577.3" stroke-width="2.5" stroke-linecap="round" stroke-linejoin="round" />
<path d="M 377.7,568.6 L 377.7,577.7 C 377.7,579.4 380.2,579.4 381.4,578.3 M 375.2,572.1 L 380.8,571.9" stroke-width="2.5" stroke-linecap="round" stroke-linejoin="round" />
<path d="M 387.2,574.5 C 385.4,574.5 384.6,575.7 384.6,576.9 C 384.6,578.4 385.7,579.4 387.2,579.4 C 388.7,579.4 389.8,578.4 389.8,576.9 C 389.8,575.4 389.0,574.5 387.2,574.5 Z" stroke-width="2.5" stroke-linecap="round" stroke-linejoin="round" />
<path d="M 397.1,575.5 C 396.5,574.5 394.8,574.2 394.1,575.9 C 393.4,577.9 394.8,579.6 395.8,579.4 C 396.5,579.3 397.0,578.9 397.1,578.4" stroke-width="2.5" stroke-linecap="round" stroke-linejoin="round" />
<path d="M 400.2,565.2 L 400.9,579.4 M 411.4,570.6 L 400.9,575.4 L 414.1,579.4" stroke-width="2.5" stroke-linecap="round" stroke-linejoin="round" />
<path d="M 425.7,574.6 C 423.2,573.5 418.2,573.8 417.2,576.5 C 416.8,578.8 420.2,579.6 422.7,579.1 C 424.7,578.5 425.7,577.1 425.7,574.3 M 425.7,575.4 C 425.7,578.2 426.2,579.4 427.1,579.1" stroke-width="2.5" stroke-linecap="round" stroke-linejoin="round" />
<path d="M 439.0,573.0 C 436.8,571.2 431.3,571.2 430.2,575.4 C 429.7,578.6 433.5,580.1 436.2,578.9 C 438.4,577.9 439.2,576.5 439.2,572.3 M 439.0,565.2 L 439.2,577.2 C 439.4,578.6 440.1,579.4 441.1,578.9" stroke-width="2.5" stroke-linecap="round" stroke-linejoin="round" />
<path d="M 449.2,573.1 C 447.7,572.1 445.2,572.5 445.4,574.5 C 445.7,575.6 446.7,575.9 447.7,575.9 C 446.2,575.9 444.6,576.6 444.9,578.0 C 445.2,579.7 448.2,579.7 449.8,578.3" stroke-width="2.5" stroke-linecap="round" stroke-linejoin="round" />
<path d="M 461.2,573.3 C 459.5,571.6 455.1,571.6 454.2,575.6 C 453.8,578.7 456.9,580.0 459.0,578.9 C 460.8,578.0 461.4,576.7 461.4,572.7 M 461.2,566.0 L 461.4,577.3 C 461.6,578.7 462.1,579.4 462.9,578.9" stroke-width="2.5" stroke-linecap="round" stroke-linejoin="round" />
<path d="M 463.9,564.8 C 466.9,564.8 467.1,565.7 467.1,568.7 L 467.1,572.2 C 467.1,574.0 468.0,574.5 469.8,574.5 C 468.0,574.5 467.1,575.1 467.1,576.9 L 467.1,580.4 C 467.1,583.4 466.9,584.4 463.9,584.4" stroke-width="2.5" stroke-linecap="round" stroke-linejoin="round" />
<path d="M357.7,633 L357.5,652.4" stroke-width="5.6" stroke-linecap="round" stroke-linejoin="round" />
<path d="M357.6,632.5 C358.5,629.8 365.5,629.6 365.9,634.6 C366.2,639.5 362.5,641.2 358.5,640.8" stroke-width="4.4" stroke-linecap="round" stroke-linejoin="round" />
<path d="M364.5,640.6 C370,640.2 374.6,642.5 374.6,647.5 C374.6,651.5 376,654.6 379,654 C380.6,653.6 381.8,652.8 382.6,651.8" stroke-width="3.8" stroke-linecap="round" stroke-linejoin="round" />
<ellipse cx="400.3" cy="650.6" rx="2.5" ry="3.8" fill="#050505"/>
<path d="M 554.4,630.2 C 546.6,637.6 546.6,647.4 554.4,654.8" stroke-width="3.2" stroke-linecap="round" stroke-linejoin="round" />
<path d="M568.6,630.5 L569.4,647.4 M569.4,640 C571.5,633.5 579,633.5 579.2,638 L579.4,647.4" stroke-width="3.8000000000000003" stroke-linecap="round" stroke-linejoin="round" />
<path d="M 587.2,639.2 C 585.0,639.2 584.0,641.2 584.0,643.2 C 584.0,645.6 585.3,647.2 587.2,647.2 C 589.1,647.2 590.4,645.6 590.4,643.2 C 590.4,640.8 589.4,639.2 587.2,639.2 Z" stroke-width="3.2" stroke-linecap="round" stroke-linejoin="round" />
<path d="M 623.0,631.6 L 610.2,632.9 M 615.3,632.4 L 616.0,647.4 M 612.8,639.5 L 621.1,639.2" stroke-width="3.2" stroke-linecap="round" stroke-linejoin="round" />
<path d="M 628.7,640.0 C 625.8,640.0 624.6,642.0 624.6,644.0 C 624.6,646.4 626.2,648.0 628.7,648.0 C 631.2,648.0 632.8,646.4 632.8,644.0 C 632.8,641.6 631.6,640.0 628.7,640.0 Z" stroke-width="3.2" stroke-linecap="round" stroke-linejoin="round" />
<path d="M 637.8,640.0 L 637.8,648.0 M 637.8,643.2 C 639.0,640.8 642.3,640.0 645.6,641.2" stroke-width="3.2" stroke-linecap="round" stroke-linejoin="round" />
<path d="M 663.2,641.2 C 660.0,639.1 652.0,639.1 650.4,644.1 C 649.6,648.0 655.2,649.6 659.2,648.3 C 662.4,647.1 663.5,645.4 663.5,640.4 M 663.2,632.0 L 663.5,646.3 C 663.8,648.0 664.8,648.8 666.4,648.3" stroke-width="3.2" stroke-linecap="round" stroke-linejoin="round" />
<path d="M 681.7,641.7 C 680.6,640.4 677.5,640.2 677.0,642.3 C 676.5,644.4 681.6,644.0 681.4,646.5 C 681.2,648.7 677.5,648.5 676.4,647.1" stroke-width="2.8" stroke-linecap="round" stroke-linejoin="round" />
<path d="M 683.8,629.4 C 690.2,636.6 690.2,646.2 683.8,653.4" stroke-width="3.2" stroke-linecap="round" stroke-linejoin="round" />
<path d="M54.3,724.3 L64.5,713.8 M60.3,719.4 L68,725.7" stroke-width="3.6" stroke-linecap="butt" stroke-linejoin="round" />
<circle cx="74.3" cy="712.7" r="4.3" fill="none" stroke="#050505" stroke-width="3.8"/>
<path d="M 530.3,282.6 C 530.3,284.6 530.6,285.3 532.6,285.3 L 543.5,285.3 C 545.5,285.3 545.8,284.6 545.8,282.6" stroke-width="2.3" stroke-linecap="round" stroke-linejoin="round" />
<path d="M 533.1,270.9 C 531.1,272.3 530.8,276.0 533.8,276.7 C 537.0,277.3 536.4,271.1 540.1,271.3 C 543.2,271.6 542.9,276.0 540.8,277.4" stroke-width="2.0" stroke-linecap="round" stroke-linejoin="round" />
<path d="M 532.0,264.1 L 542.5,264.1" stroke-width="2.0" stroke-linecap="round" stroke-linejoin="round" />
<path d="M 537.4,254.9 L 542.5,254.9" stroke-width="2.0" stroke-linecap="round" stroke-linejoin="round" />
<path d="M 538.6,243.9 C 536.6,245.9 537.4,249.7 542.0,250.0 C 545.9,250.3 547.0,246.6 543.6,243.9 M 537.4,243.9 L 549.0,243.9 C 552.9,243.9 553.7,246.6 551.4,249.3" stroke-width="2.0" stroke-linecap="round" stroke-linejoin="round" />
<path d="M 530.3,240.8 L 542.0,240.8 M 537.3,240.8 C 535.0,239.8 533.8,236.1 537.3,235.6 L 542.0,235.6" stroke-width="2.0" stroke-linecap="round" stroke-linejoin="round" />
<path d="M 532.0,229.6 L 540.5,229.6 C 542.0,229.6 542.0,226.7 541.0,225.2 M 535.2,232.6 L 535.0,225.9" stroke-width="2.0" stroke-linecap="round" stroke-linejoin="round" />
<circle cx="533.1" cy="220.9" r="1.2" fill="#050505"/>
<path d="M 529.2,203.2 C 529.2,206.0 532.0,207.2 534.8,207.2 C 538.1,207.2 540.3,205.6 540.3,203.2 C 540.3,200.8 538.1,199.2 534.8,199.2 C 531.4,199.2 529.2,200.4 529.2,203.2 Z" stroke-width="2.2" stroke-linecap="round" stroke-linejoin="round" />
<path d="M 528.7,194.8 L 539.8,194.8 M 535.4,194.8 C 533.1,193.7 532.6,189.4 536.5,189.4 C 540.4,189.4 540.4,193.2 538.7,194.8" stroke-width="2.0" stroke-linecap="round" stroke-linejoin="round" />
<path d="M 536.0,180.3 C 535.0,181.5 534.9,184.8 536.3,185.4 C 537.8,185.9 537.5,180.5 539.2,180.6 C 540.6,180.9 540.5,184.8 539.5,186.0" stroke-width="2.0" stroke-linecap="round" stroke-linejoin="round" />
<path d="M 530.8,175.0 L 538.9,175.0 C 540.3,175.0 540.3,172.9 539.3,171.8 M 533.8,177.2 L 533.6,172.3" stroke-width="2.0" stroke-linecap="round" stroke-linejoin="round" />
<path d="M 536.0,163.6 C 534.9,165.2 535.2,168.4 537.8,169.0 C 539.8,169.3 540.6,167.1 540.0,165.5 C 539.5,164.2 538.3,163.6 535.7,163.6 M 536.7,163.6 C 539.3,163.6 540.3,163.2 540.0,162.6" stroke-width="2.0" stroke-linecap="round" stroke-linejoin="round" />
<path d="M 536.7,157.4 C 535.8,158.1 535.6,159.9 537.0,160.6 C 538.6,161.4 540.0,159.9 539.8,158.8 C 539.7,158.1 539.4,157.6 539.0,157.4" stroke-width="2.0" stroke-linecap="round" stroke-linejoin="round" />
<path d="M 529.2,153.1 L 539.8,153.1" stroke-width="2.0" stroke-linecap="round" stroke-linejoin="round" />
<path d="M 535.1,147.6 C 534.3,149.0 534.6,151.2 536.2,150.9 C 536.9,150.7 537.2,149.8 537.2,149.0 C 537.2,150.3 537.7,151.6 538.8,151.4 C 540.1,151.2 540.1,148.5 539.0,147.2" stroke-width="1.8" stroke-linecap="round" stroke-linejoin="round" />
<path d="M 527.6,145.2 C 532.4,140.6 538.8,140.6 543.6,145.2" stroke-width="2.0" stroke-linecap="round" stroke-linejoin="round" />
<path d="M924.4,160.7 C914,182 905.5,215 904.9,249 L905.2,352 C905.2,372 899,380 891.7,384.2" stroke-width="2.4" stroke-linecap="round" stroke-linejoin="round" />
<path d="M891.7,390.7 C899,395 905.6,410 905.8,435.5 L905.8,479 C905.6,500 898.5,520 898,541 C898,565 905,586 912.4,594.6" stroke-width="2.5" stroke-linecap="round" stroke-linejoin="round" />
<path d="M945.6,168 L946,208 C946.4,213 944.2,216 946.8,222 C949.2,229 943.6,236 945.4,245" stroke-width="2.0" stroke-linecap="round" stroke-linejoin="round" />
<path d="M939.7,180.4 L945.6,167.0 L951.7,180.4" stroke-width="2.5" stroke-linecap="round" stroke-linejoin="round" />
<path d="M936,568 C938.5,574 932.5,580 936.4,594" stroke-width="1.8" stroke-linecap="round" stroke-linejoin="round" />
<path d="M927.7,587.0 L936.4,594.6 L944.0,587.0" stroke-width="2.2" stroke-linecap="round" stroke-linejoin="round" />
<path d="M922.2,559.1 L944.6,559.4" stroke-width="2.9" stroke-linecap="round" stroke-linejoin="round" />
<path d="M922.4,559 C919.4,556.4 919.4,553.4 921.6,552 C924.6,550.6 928,552.4 927.9,555.2 C927.8,557.2 927,558.2 926.3,558.8" stroke-width="2.6" stroke-linecap="round" stroke-linejoin="round" />
<path d="M943.6,550.6 L925.4,545.6 C923.4,544.6 923.8,543 926,543.4 C930,544.4 936,547 941,549.4" stroke-width="2.6999999999999997" stroke-linecap="round" stroke-linejoin="round" />
<ellipse cx="939.2" cy="538.6" rx="4.5" ry="3.6" fill="none" stroke="#050505" stroke-width="2.8" transform="rotate(-15 939.2 538.6)"/>
<path d="M943.4,535.6 C945,534.6 946,534 947,533.8" stroke-width="2.4" stroke-linecap="round" stroke-linejoin="round" />
<path d="M936.4,532 C940,530.4 944,529 946.4,527.8 C943,526 940,525.2 938,523.8 C941,522 944.6,520.6 947,519 C945,516 942.4,513.4 943,510.8 C944.6,508.6 948.4,509 948.4,506.6 C948.2,505.4 947.4,504.8 946.6,504.4" stroke-width="2.6999999999999997" stroke-linecap="round" stroke-linejoin="round" />
<circle cx="926.0" cy="520.8" r="1.9" fill="#050505"/>
<path d="M931.4,483.7 C927.8,480.5 928.2,474.6 931.4,473.4 C934.8,472.6 937.6,475.4 937.5,478.9 C938,473.5 942,470.8 945.4,473.4 C949.4,477.2 947.6,485 943.4,486.6 C941.8,487 940.9,486.4 940.6,485.4" stroke-width="2.6" stroke-linecap="round" stroke-linejoin="round" />
<path d="M933.5,459.1 L947.3,458.2 M938.4,457.8 C935.4,456.4 935.6,452.8 938.4,452.4 L947.8,451.5 M938.9,451.6 C936,450.2 936.2,447 938.8,446.6 L947.3,445.8" stroke-width="2.4" stroke-linecap="round" stroke-linejoin="round" />
<circle cx="933.6" cy="459.3" r="1.8" fill="#050505"/>
<path d="M937.8,441.5 L947.8,439.1" stroke-width="2.4" stroke-linecap="round" stroke-linejoin="round" />
<circle cx="936.3" cy="435.7" r="1.2" fill="#050505"/>
<path d="M947.6,436.4 C942,433.6 936,430.4 931.4,427.8 C929.4,426.4 930.6,424.2 933,425.2 C938,427 943,429.4 947,431.6" stroke-width="2.3" stroke-linecap="round" stroke-linejoin="round" />
<path d="M947,431.6 C948.6,428 948,424.6 946.6,422.6 C943.6,423.4 940.6,420.4 942.4,417.2 C944.4,414.6 948.8,416.4 948.2,419.8 C947.8,421.6 946.6,422.4 945.4,422.4" stroke-width="2.3" stroke-linecap="round" stroke-linejoin="round" />
<path d="M948.6,415 C949.4,412.4 949,410.4 948,408.6 C951.8,406 950.6,400.6 946,400.6 C941.6,400.8 940,405.6 943.4,407.8 C945.4,408.8 947.4,408.6 948.4,407.6" stroke-width="2.4" stroke-linecap="round" stroke-linejoin="round" />
<path d="M939.6,381.7 C941.5,384.5 946,385.5 948.6,381.4 C947,377.6 943.5,376.5 942.4,374 C944,372 946.6,373.5 947.4,371.5 C946.4,368.5 944,367.5 943.9,365 C945.5,363 948,363.6 948,361.5 C947.8,360.4 947.4,360 947,359.6" stroke-width="2.6" stroke-linecap="round" stroke-linejoin="round" />
<ellipse cx="931.3" cy="373.1" rx="1.6" ry="1.1" fill="#050505"/>
<path d="M932.3,329.4 C933.5,333.6 942.5,336.4 946.6,330 C948,326.6 944,323.6 940.5,324.6 C944.5,324.6 948,323.6 946.4,318.8 C944.8,315.6 936.5,315.6 933.6,319" stroke-width="2.6" stroke-linecap="round" stroke-linejoin="round" />
<path d="M945,306.6 L948,309.6" stroke-width="2.8" stroke-linecap="round" stroke-linejoin="round" />
<path d="M941.8,298.7 C943.8,299.5 947.6,297.6 946.6,294.4 C945.4,291.6 941.4,292.2 940.7,294.9 C940.5,297.4 944.5,298.8 947.3,296.6 C944,293 938,290.6 933.6,289.2" stroke-width="2.5" stroke-linecap="round" stroke-linejoin="round" />
<path d="M933.8,278.4 C939,279.6 944,281 948.6,282.4 M937.6,284 L936.4,274.2" stroke-width="2.5" stroke-linecap="round" stroke-linejoin="round" />
<path d="M934.3,265.2 L949.3,269.3 M942.2,267.4 C938.6,264 939.4,260.6 943,260.3 L949.3,259.1 C949,257.5 948,256 948,255" stroke-width="2.5" stroke-linecap="round" stroke-linejoin="round" />
</svg>
</body></html>
